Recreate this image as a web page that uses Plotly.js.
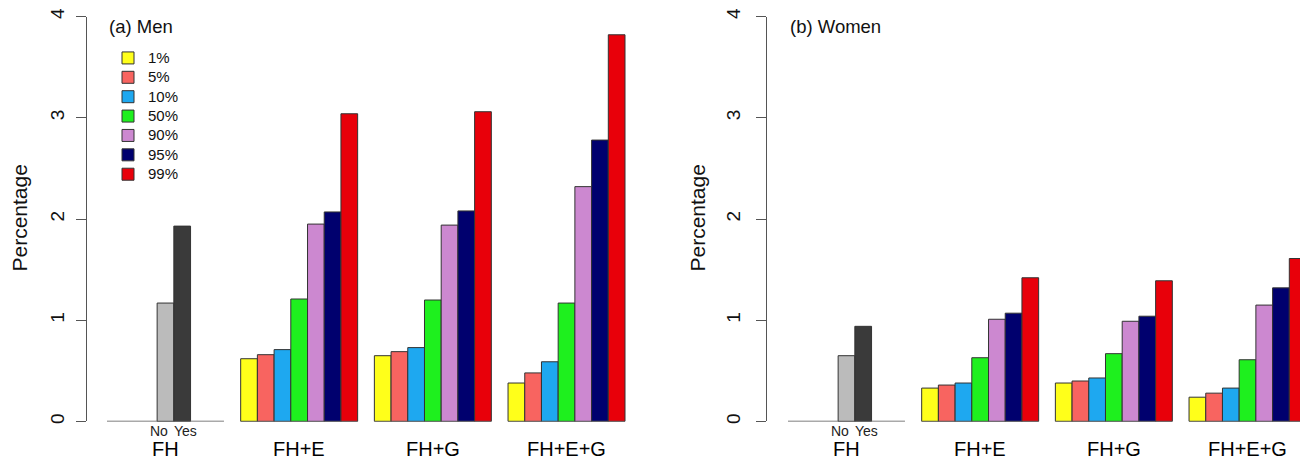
<!DOCTYPE html>
<html>
<head>
<meta charset="utf-8">
<script src="https://cdn.plot.ly/plotly-3.0.1.min.js"></script>
<style>html,body{margin:0;padding:0;background:#fff;}#chart{width:1300px;height:460px;}</style>
</head>
<body>
<div id="chart"></div>
<script>
// ---- data ----
const groups = ['FH', 'FH+E', 'FH+G', 'FH+E+G'];
const quantiles = ['1%', '5%', '10%', '50%', '90%', '95%', '99%'];
const fhLabels = ['No', 'Yes'];
const panelTitles = ['(a) Men', '(b) Women'];
const yTicks = [0, 1, 2, 3, 4];

const menFH = [1.17, 1.93];
const menE = [0.62, 0.66, 0.71, 1.21, 1.95, 2.07, 3.04];
const menG = [0.65, 0.69, 0.73, 1.20, 1.94, 2.08, 3.06];
const menEG = [0.38, 0.48, 0.59, 1.17, 2.32, 2.78, 3.82];

const womenFH = [0.65, 0.94];
const womenE = [0.33, 0.36, 0.38, 0.63, 1.01, 1.07, 1.42];
const womenG = [0.38, 0.40, 0.43, 0.67, 0.99, 1.04, 1.39];
const womenEG = [0.24, 0.28, 0.33, 0.61, 1.15, 1.32, 1.61];

const qColors = ['#FFFF1A', '#F86460', '#1EA8F0', '#1EF01E', '#CC88D0', '#00006E', '#E8000A'];
const fhColors = ['#BBBBBB', '#3A3A3A'];

// ---- build ----
const SLOTS = 7, STEP = 8;       // 7 bars per group, 1 empty slot between groups
const fhSlots = [3, 4];          // No / Yes sit in the middle of the FH group
const fhLabelShift = [-0.4, 0.2];
const FONT = 'Liberation Sans, Arial, sans-serif';
const traces = [];
const annotations = [];

function addPanel(p, fh, e, g, eg) {
  const xa = p === 0 ? 'x' : 'x2', ya = p === 0 ? 'y' : 'y2';
  const xr = p === 0 ? 'x' : 'x2';
  traces.push({
    type: 'bar', x: fhSlots.map(s => s + 0.5), y: fh, width: 1,
    marker: {color: fhColors, line: {color: '#333', width: 1}},
    xaxis: xa, yaxis: ya, showlegend: false, hoverinfo: 'y'
  });
  const sets = [e, g, eg];
  quantiles.forEach((q, qi) => {
    traces.push({
      type: 'bar', name: '<span style="font-size:15px">' + q + '</span>',
      x: sets.map((_, gi) => (gi + 1) * STEP + qi + 0.5),
      y: sets.map(s => s[qi]), width: 1,
      marker: {color: qColors[qi], line: {color: '#333', width: 1}},
      xaxis: xa, yaxis: ya, showlegend: p === 0, legendgroup: q
    });
  });
  groups.forEach((gname, gi) => {
    traces.push({
      type: 'scatter', mode: 'lines', x: [gi * STEP, gi * STEP + SLOTS], y: [0, 0],
      line: {color: '#555', width: 1.5}, xaxis: xa, yaxis: ya,
      showlegend: false, hoverinfo: 'skip', cliponaxis: false
    });
    annotations.push({
      xref: xr, yref: 'paper', x: gi * STEP + SLOTS / 2, y: 0.024,
      text: gname, showarrow: false, xanchor: 'center', yanchor: 'middle',
      font: {family: FONT, size: 20, color: '#000'}
    });
  });
  fhLabels.forEach((lab, i) => {
    annotations.push({
      xref: xr, yref: 'paper', x: fhSlots[i] + 0.5 + fhLabelShift[i], y: 0.064,
      text: lab, showarrow: false, xanchor: 'center', yanchor: 'middle',
      font: {family: FONT, size: 14, color: '#222'}
    });
  });
  annotations.push({
    xref: xr, yref: 'paper', x: 0, y: 0.942,
    text: panelTitles[p], showarrow: false, xanchor: 'left', yanchor: 'middle',
    font: {family: FONT, size: 18.5, color: '#111'}
  });
  annotations.push({
    xref: 'paper', yref: 'paper', x: (p === 0 ? 19 : 697) / 1300, y: 0.525,
    text: 'Percentage', showarrow: false, textangle: -90,
    xanchor: 'center', yanchor: 'middle',
    font: {family: FONT, size: 21, color: '#111'}
  });
}

addPanel(0, menFH, menE, menG, menEG);
addPanel(1, womenFH, womenE, womenG, womenEG);

const PX = 16.71;
const yBase = {
  range: [0, 4], domain: [0.0837, 0.964], tickvals: yTicks, ticktext: yTicks.map(String),
  ticks: 'outside', ticklen: 10, tickcolor: '#555', tickwidth: 1,
  showline: true, linecolor: '#555', linewidth: 1, showgrid: false, zeroline: false,
  tickangle: -90, tickfont: {family: FONT, size: 19, color: '#111'}
};
const xBase = {showgrid: false, zeroline: false, showline: false, ticks: '', showticklabels: false};

const layout = {
  width: 1300, height: 460, margin: {l: 0, r: 0, t: 0, b: 0},
  paper_bgcolor: '#fff', plot_bgcolor: '#fff',
  barmode: 'overlay', showlegend: true,
  xaxis: Object.assign({}, xBase, {domain: [87 / 1300, 640 / 1300],
    range: [-20 / PX, -20 / PX + 553 / PX]}),
  xaxis2: Object.assign({}, xBase, {domain: [767 / 1300, 1], anchor: 'y2',
    range: [-21 / PX, -21 / PX + 533 / PX]}),
  yaxis: Object.assign({}, yBase, {anchor: 'x', ticklabelstandoff: 4}),
  yaxis2: Object.assign({}, yBase, {anchor: 'x2', ticklabelstandoff: 8}),
  legend: {x: 108 / 1300, y: 0.906, xanchor: 'left', yanchor: 'top',
    font: {family: FONT, size: 12.6, color: '#111'}, bgcolor: 'rgba(0,0,0,0)',
    tracegroupgap: 0, traceorder: 'normal'},
  annotations: annotations
};

Plotly.newPlot('chart', traces, layout, {staticPlot: true});
</script>
</body>
</html>
